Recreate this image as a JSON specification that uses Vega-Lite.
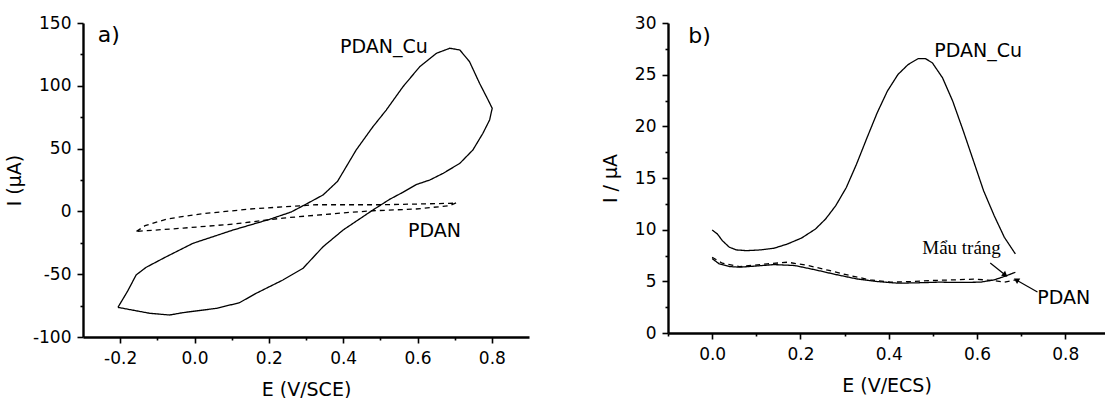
{
  "$schema": "https://vega.github.io/schema/vega-lite/v6.json",
  "background": "white",
  "padding": {"left": 5, "top": 14, "right": 0, "bottom": 0},
  "spacing": 72,
  "config": {
    "view": {"stroke": null},
    "font": "DejaVu Sans",
    "axis": {
      "domainColor": "black", "domainWidth": 2.4, "domainOpacity": 1,
      "tickColor": "black", "tickWidth": 1.6, "tickOpacity": 1,
      "labelFont": "DejaVu Sans", "labelFontSize": 17, "labelColor": "black", "labelPadding": 8,
      "titleFont": "DejaVu Sans", "titleFontSize": 19, "titleFontWeight": "normal", "titleColor": "black",
      "grid": false
    }
  },
  "datasets": {
    "cvA": [
      {"s": "PDAN_Cu", "i": 1, "E": -0.206, "I": -76.4},
      {"s": "PDAN_Cu", "i": 2, "E": -0.180, "I": -63.5},
      {"s": "PDAN_Cu", "i": 3, "E": -0.157, "I": -50.6},
      {"s": "PDAN_Cu", "i": 4, "E": -0.130, "I": -44.5},
      {"s": "PDAN_Cu", "i": 5, "E": -0.076, "I": -36.1},
      {"s": "PDAN_Cu", "i": 6, "E": -0.004, "I": -25.4},
      {"s": "PDAN_Cu", "i": 7, "E": 0.104, "I": -14.8},
      {"s": "PDAN_Cu", "i": 8, "E": 0.202, "I": -6.3},
      {"s": "PDAN_Cu", "i": 9, "E": 0.260, "I": -0.5},
      {"s": "PDAN_Cu", "i": 10, "E": 0.301, "I": 5.9},
      {"s": "PDAN_Cu", "i": 11, "E": 0.346, "I": 13.1},
      {"s": "PDAN_Cu", "i": 12, "E": 0.385, "I": 24.0},
      {"s": "PDAN_Cu", "i": 13, "E": 0.435, "I": 48.9},
      {"s": "PDAN_Cu", "i": 14, "E": 0.480, "I": 67.4},
      {"s": "PDAN_Cu", "i": 15, "E": 0.516, "I": 80.7},
      {"s": "PDAN_Cu", "i": 16, "E": 0.561, "I": 99.3},
      {"s": "PDAN_Cu", "i": 17, "E": 0.606, "I": 115.2},
      {"s": "PDAN_Cu", "i": 18, "E": 0.651, "I": 125.9},
      {"s": "PDAN_Cu", "i": 19, "E": 0.687, "I": 129.9},
      {"s": "PDAN_Cu", "i": 20, "E": 0.714, "I": 128.5},
      {"s": "PDAN_Cu", "i": 21, "E": 0.740, "I": 119.2},
      {"s": "PDAN_Cu", "i": 22, "E": 0.767, "I": 102.0},
      {"s": "PDAN_Cu", "i": 23, "E": 0.790, "I": 88.7},
      {"s": "PDAN_Cu", "i": 24, "E": 0.801, "I": 82.1},
      {"s": "PDAN_Cu", "i": 25, "E": 0.794, "I": 72.8},
      {"s": "PDAN_Cu", "i": 26, "E": 0.776, "I": 62.2},
      {"s": "PDAN_Cu", "i": 27, "E": 0.749, "I": 48.9},
      {"s": "PDAN_Cu", "i": 28, "E": 0.714, "I": 38.3},
      {"s": "PDAN_Cu", "i": 29, "E": 0.669, "I": 30.3},
      {"s": "PDAN_Cu", "i": 30, "E": 0.633, "I": 25.0},
      {"s": "PDAN_Cu", "i": 31, "E": 0.597, "I": 21.4},
      {"s": "PDAN_Cu", "i": 32, "E": 0.560, "I": 15.1},
      {"s": "PDAN_Cu", "i": 33, "E": 0.525, "I": 9.6},
      {"s": "PDAN_Cu", "i": 34, "E": 0.480, "I": 1.1},
      {"s": "PDAN_Cu", "i": 35, "E": 0.400, "I": -14.8},
      {"s": "PDAN_Cu", "i": 36, "E": 0.346, "I": -28.1},
      {"s": "PDAN_Cu", "i": 37, "E": 0.292, "I": -45.3},
      {"s": "PDAN_Cu", "i": 38, "E": 0.238, "I": -54.6},
      {"s": "PDAN_Cu", "i": 39, "E": 0.166, "I": -65.2},
      {"s": "PDAN_Cu", "i": 40, "E": 0.121, "I": -72.7},
      {"s": "PDAN_Cu", "i": 41, "E": 0.059, "I": -77.2},
      {"s": "PDAN_Cu", "i": 42, "E": -0.031, "I": -80.6},
      {"s": "PDAN_Cu", "i": 43, "E": -0.067, "I": -82.5},
      {"s": "PDAN_Cu", "i": 44, "E": -0.121, "I": -81.1},
      {"s": "PDAN_Cu", "i": 45, "E": -0.206, "I": -76.4},
      {"s": "PDAN", "i": 1, "E": -0.156, "I": -15.9},
      {"s": "PDAN", "i": 2, "E": -0.133, "I": -11.4},
      {"s": "PDAN", "i": 3, "E": -0.075, "I": -6.1},
      {"s": "PDAN", "i": 4, "E": 0.014, "I": -2.1},
      {"s": "PDAN", "i": 5, "E": 0.149, "I": 1.9},
      {"s": "PDAN", "i": 6, "E": 0.328, "I": 5.3},
      {"s": "PDAN", "i": 7, "E": 0.506, "I": 5.3},
      {"s": "PDAN", "i": 8, "E": 0.685, "I": 6.4},
      {"s": "PDAN", "i": 9, "E": 0.705, "I": 6.9},
      {"s": "PDAN", "i": 10, "E": 0.685, "I": 4.5},
      {"s": "PDAN", "i": 11, "E": 0.596, "I": 1.9},
      {"s": "PDAN", "i": 12, "E": 0.480, "I": 0.5},
      {"s": "PDAN", "i": 13, "E": 0.417, "I": -0.8},
      {"s": "PDAN", "i": 14, "E": 0.238, "I": -5.3},
      {"s": "PDAN", "i": 15, "E": 0.104, "I": -10.1},
      {"s": "PDAN", "i": 16, "E": -0.030, "I": -13.3},
      {"s": "PDAN", "i": 17, "E": -0.156, "I": -15.9}
    ],
    "dpvB": [
      {"s": "PDAN_Cu", "i": 1, "E": 0.0, "I": 9.97},
      {"s": "PDAN_Cu", "i": 2, "E": 0.012, "I": 9.58},
      {"s": "PDAN_Cu", "i": 3, "E": 0.023, "I": 8.94},
      {"s": "PDAN_Cu", "i": 4, "E": 0.039, "I": 8.30},
      {"s": "PDAN_Cu", "i": 5, "E": 0.055, "I": 8.04},
      {"s": "PDAN_Cu", "i": 6, "E": 0.078, "I": 7.97},
      {"s": "PDAN_Cu", "i": 7, "E": 0.109, "I": 8.04},
      {"s": "PDAN_Cu", "i": 8, "E": 0.140, "I": 8.20},
      {"s": "PDAN_Cu", "i": 9, "E": 0.171, "I": 8.62},
      {"s": "PDAN_Cu", "i": 10, "E": 0.203, "I": 9.20},
      {"s": "PDAN_Cu", "i": 11, "E": 0.234, "I": 10.06},
      {"s": "PDAN_Cu", "i": 12, "E": 0.257, "I": 11.03},
      {"s": "PDAN_Cu", "i": 13, "E": 0.280, "I": 12.32},
      {"s": "PDAN_Cu", "i": 14, "E": 0.304, "I": 14.08},
      {"s": "PDAN_Cu", "i": 15, "E": 0.327, "I": 16.33},
      {"s": "PDAN_Cu", "i": 16, "E": 0.351, "I": 18.91},
      {"s": "PDAN_Cu", "i": 17, "E": 0.374, "I": 21.32},
      {"s": "PDAN_Cu", "i": 18, "E": 0.397, "I": 23.41},
      {"s": "PDAN_Cu", "i": 19, "E": 0.421, "I": 25.02},
      {"s": "PDAN_Cu", "i": 20, "E": 0.444, "I": 25.98},
      {"s": "PDAN_Cu", "i": 21, "E": 0.467, "I": 26.56},
      {"s": "PDAN_Cu", "i": 22, "E": 0.483, "I": 26.56},
      {"s": "PDAN_Cu", "i": 23, "E": 0.499, "I": 26.14},
      {"s": "PDAN_Cu", "i": 24, "E": 0.522, "I": 24.69},
      {"s": "PDAN_Cu", "i": 25, "E": 0.545, "I": 22.44},
      {"s": "PDAN_Cu", "i": 26, "E": 0.569, "I": 19.55},
      {"s": "PDAN_Cu", "i": 27, "E": 0.592, "I": 16.66},
      {"s": "PDAN_Cu", "i": 28, "E": 0.615, "I": 13.76},
      {"s": "PDAN_Cu", "i": 29, "E": 0.639, "I": 11.35},
      {"s": "PDAN_Cu", "i": 30, "E": 0.662, "I": 9.26},
      {"s": "PDAN_Cu", "i": 31, "E": 0.687, "I": 7.65},
      {"s": "blank", "i": 1, "E": 0.0, "I": 7.20},
      {"s": "blank", "i": 2, "E": 0.016, "I": 6.69},
      {"s": "blank", "i": 3, "E": 0.039, "I": 6.43},
      {"s": "blank", "i": 4, "E": 0.062, "I": 6.37},
      {"s": "blank", "i": 5, "E": 0.093, "I": 6.46},
      {"s": "blank", "i": 6, "E": 0.140, "I": 6.62},
      {"s": "blank", "i": 7, "E": 0.187, "I": 6.53},
      {"s": "blank", "i": 8, "E": 0.234, "I": 6.11},
      {"s": "blank", "i": 9, "E": 0.280, "I": 5.66},
      {"s": "blank", "i": 10, "E": 0.327, "I": 5.24},
      {"s": "blank", "i": 11, "E": 0.374, "I": 4.98},
      {"s": "blank", "i": 12, "E": 0.421, "I": 4.82},
      {"s": "blank", "i": 13, "E": 0.467, "I": 4.86},
      {"s": "blank", "i": 14, "E": 0.514, "I": 4.92},
      {"s": "blank", "i": 15, "E": 0.561, "I": 4.89},
      {"s": "blank", "i": 16, "E": 0.608, "I": 4.92},
      {"s": "blank", "i": 17, "E": 0.639, "I": 5.14},
      {"s": "blank", "i": 18, "E": 0.662, "I": 5.47},
      {"s": "blank", "i": 19, "E": 0.687, "I": 5.88},
      {"s": "PDAN", "i": 1, "E": 0.0, "I": 7.33},
      {"s": "PDAN", "i": 2, "E": 0.023, "I": 6.75},
      {"s": "PDAN", "i": 3, "E": 0.062, "I": 6.43},
      {"s": "PDAN", "i": 4, "E": 0.125, "I": 6.69},
      {"s": "PDAN", "i": 5, "E": 0.171, "I": 6.85},
      {"s": "PDAN", "i": 6, "E": 0.218, "I": 6.53},
      {"s": "PDAN", "i": 7, "E": 0.265, "I": 6.05},
      {"s": "PDAN", "i": 8, "E": 0.312, "I": 5.56},
      {"s": "PDAN", "i": 9, "E": 0.358, "I": 5.14},
      {"s": "PDAN", "i": 10, "E": 0.405, "I": 4.92},
      {"s": "PDAN", "i": 11, "E": 0.452, "I": 4.98},
      {"s": "PDAN", "i": 12, "E": 0.499, "I": 5.08},
      {"s": "PDAN", "i": 13, "E": 0.545, "I": 5.14},
      {"s": "PDAN", "i": 14, "E": 0.592, "I": 5.21},
      {"s": "PDAN", "i": 15, "E": 0.639, "I": 5.08},
      {"s": "PDAN", "i": 16, "E": 0.662, "I": 4.92},
      {"s": "PDAN", "i": 17, "E": 0.687, "I": 5.14}
    ],
    "labA": [
      {"E": -0.26, "I": 140.4, "t": "a)", "k": "panel"},
      {"E": 0.3915, "I": 130.5, "t": "PDAN_Cu", "k": "curve"},
      {"E": 0.5745, "I": -16.0, "t": "PDAN", "k": "curve"}
    ],
    "labB": [
      {"E": -0.054, "I": 28.7, "t": "b)", "k": "panel"},
      {"E": 0.503, "I": 27.25, "t": "PDAN_Cu", "k": "curve"},
      {"E": 0.476, "I": 8.2, "t": "Mẩu tráng", "k": "serif"},
      {"E": 0.7366, "I": 3.39, "t": "PDAN", "k": "curve"}
    ],
    "arrB": [
      {"a": "blank", "E": 0.630, "I": 6.78, "E2": 0.664, "I2": 5.61},
      {"a": "PDAN", "E": 0.737, "I": 3.97, "E2": 0.689, "I2": 5.13}
    ]
  },
  "hconcat": [
    {
      "width": 446,
      "height": 314,
      "encoding": {
        "x": {"field": "E", "type": "quantitative", "scale": {"domain": [-0.3, 0.9], "nice": false, "zero": false},
          "axis": {
            "values": [-0.2, -0.1, 0, 0.1, 0.2, 0.3, 0.4, 0.5, 0.6, 0.7, 0.8],
            "domainColor": "black", "tickColor": "black",
            "tickSize": {"condition": {"test": "round(datum.value*10)%2==0", "value": 6}, "value": 3},
            "labelExpr": "round(datum.value*10)%2==0 ? replace(format(datum.value,'.1f'),'−','-') : ''",
            "labelPadding": 7,
            "title": "E (V/SCE)", "titlePadding": 14
          }},
        "y": {"field": "I", "type": "quantitative", "scale": {"domain": [-100, 150], "nice": false, "zero": false},
          "axis": {
            "values": [-100, -75, -50, -25, 0, 25, 50, 75, 100, 125, 150],
            "domainColor": "black", "tickColor": "black",
            "tickSize": {"condition": {"test": "datum.value%50==0", "value": 6}, "value": 3},
            "labelExpr": "datum.value%50==0 ? replace(format(datum.value,'d'),'−','-') : ''",
            "labelPadding": 6,
            "title": "I (µA)", "titlePadding": 8
          }}
      },
      "layer": [
        {
          "data": {"name": "cvA"},
          "mark": {"type": "line", "color": "black", "strokeWidth": 1.3},
          "encoding": {
            "strokeDash": {"field": "s", "type": "nominal", "scale": {"domain": ["PDAN_Cu", "PDAN"], "range": [[1, 0], [5, 4]]}, "legend": null},
            "detail": {"field": "s"},
            "order": {"field": "i", "type": "quantitative"}
          }
        },
        {
          "data": {"name": "labA"},
          "transform": [{"filter": "datum.k == 'panel'"}],
          "mark": {"type": "text", "align": "left", "baseline": "middle", "font": "DejaVu Sans", "fontSize": 22, "color": "black"},
          "encoding": {"text": {"field": "t"}}
        },
        {
          "data": {"name": "labA"},
          "transform": [{"filter": "datum.k == 'curve'"}],
          "mark": {"type": "text", "align": "left", "baseline": "middle", "font": "DejaVu Sans", "fontSize": 19, "color": "black"},
          "encoding": {"text": {"field": "t"}}
        }
      ]
    },
    {
      "width": 437,
      "height": 310,
      "encoding": {
        "x": {"field": "E", "type": "quantitative", "scale": {"domain": [-0.1, 0.89], "nice": false, "zero": false},
          "axis": {
            "values": [-0.1, 0, 0.1, 0.2, 0.3, 0.4, 0.5, 0.6, 0.7, 0.8],
            "domainColor": "black", "tickColor": "black",
            "tickSize": {"condition": {"test": "round(datum.value*10)%2==0", "value": 6}, "value": 3},
            "labelExpr": "round(datum.value*10)%2==0 ? replace(format(datum.value,'.1f'),'−','-') : ''",
            "labelPadding": 7,
            "title": "E (V/ECS)", "titlePadding": 14
          }},
        "y": {"field": "I", "type": "quantitative", "scale": {"domain": [0, 30], "nice": false},
          "axis": {
            "values": [0, 2.5, 5, 7.5, 10, 12.5, 15, 17.5, 20, 22.5, 25, 27.5, 30],
            "domainColor": "black", "tickColor": "black",
            "tickSize": {"condition": {"test": "datum.value%5==0", "value": 6}, "value": 3},
            "labelExpr": "datum.value%5==0 ? format(datum.value,'d') : ''",
            "labelPadding": 6,
            "title": "I / µA", "titlePadding": 14
          }}
      },
      "layer": [
        {
          "data": {"name": "dpvB"},
          "mark": {"type": "line", "color": "black", "strokeWidth": 1.3},
          "encoding": {
            "strokeDash": {"field": "s", "type": "nominal", "scale": {"domain": ["PDAN_Cu", "blank", "PDAN"], "range": [[1, 0], [1, 0], [5, 4]]}, "legend": null},
            "detail": {"field": "s"},
            "order": {"field": "i", "type": "quantitative"}
          }
        },
        {
          "data": {"name": "arrB"},
          "mark": {"type": "rule", "color": "black", "strokeWidth": 1.2},
          "encoding": {"x2": {"field": "E2"}, "y2": {"field": "I2"}}
        },
        {
          "data": {"name": "arrB"},
          "transform": [{"filter": "datum.a == 'blank'"}],
          "mark": {"type": "point", "shape": "triangle-right", "filled": true, "color": "black", "size": 40, "angle": 39, "opacity": 1},
          "encoding": {"x": {"field": "E2", "type": "quantitative"}, "y": {"field": "I2", "type": "quantitative"}}
        },
        {
          "data": {"name": "arrB"},
          "transform": [{"filter": "datum.a == 'PDAN'"}],
          "mark": {"type": "point", "shape": "triangle-right", "filled": true, "color": "black", "size": 40, "angle": 210, "opacity": 1},
          "encoding": {"x": {"field": "E2", "type": "quantitative"}, "y": {"field": "I2", "type": "quantitative"}}
        },
        {
          "data": {"name": "labB"},
          "transform": [{"filter": "datum.k == 'panel'"}],
          "mark": {"type": "text", "align": "left", "baseline": "middle", "font": "DejaVu Sans", "fontSize": 22, "color": "black"},
          "encoding": {"text": {"field": "t"}}
        },
        {
          "data": {"name": "labB"},
          "transform": [{"filter": "datum.k == 'curve'"}],
          "mark": {"type": "text", "align": "left", "baseline": "middle", "font": "DejaVu Sans", "fontSize": 19, "color": "black"},
          "encoding": {"text": {"field": "t"}}
        },
        {
          "data": {"name": "labB"},
          "transform": [{"filter": "datum.k == 'serif'"}],
          "mark": {"type": "text", "align": "left", "baseline": "middle", "font": "Liberation Serif", "fontSize": 19, "color": "black"},
          "encoding": {"text": {"field": "t"}}
        }
      ]
    }
  ]
}
